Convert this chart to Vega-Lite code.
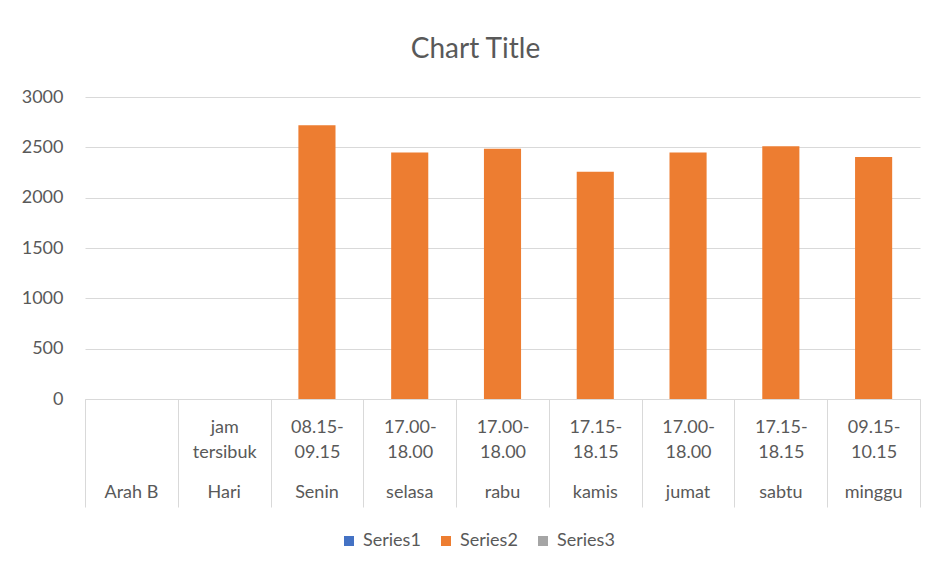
{
  "$schema": "https://vega.github.io/schema/vega-lite/v6.json",
  "autosize": "none",
  "width": 835,
  "height": 302,
  "padding": {"left": 85, "top": 97, "right": 19, "bottom": 169},
  "background": "white",
  "title": {"text": "Chart Title", "fontSize": 28, "font": "Lato", "fontWeight": "normal", "color": "#595959", "anchor": "middle", "offset": 24, "dx": -27},
  "config": {
    "view": {"stroke": null},
    "font": "Lato"
  },
  "data": {
    "values": [
      {"cat": "||Arah B", "series": "Series2", "value": null},
      {"cat": "jam|tersibuk|Hari", "series": "Series2", "value": null},
      {"cat": "08.15-|09.15|Senin", "series": "Series2", "value": 2720},
      {"cat": "17.00-|18.00|selasa", "series": "Series2", "value": 2448},
      {"cat": "17.00-|18.00|rabu", "series": "Series2", "value": 2485},
      {"cat": "17.15-|18.15|kamis", "series": "Series2", "value": 2257},
      {"cat": "17.00-|18.00|jumat", "series": "Series2", "value": 2448},
      {"cat": "17.15-|18.15|sabtu", "series": "Series2", "value": 2510},
      {"cat": "09.15-|10.15|minggu", "series": "Series2", "value": 2405}
    ]
  },
  "resolve": {"axis": {"x": "independent"}},
  "layer": [
    {
      "mark": {"type": "bar", "width": {"band": 0.4}},
      "encoding": {
        "x": {
          "field": "cat", "type": "nominal", "sort": null,
          "scale": {
            "domain": ["||Arah B", "jam|tersibuk|Hari", "08.15-|09.15|Senin", "17.00-|18.00|selasa", "17.00-|18.00|rabu", "17.15-|18.15|kamis", "17.00-|18.00|jumat", "17.15-|18.15|sabtu", "09.15-|10.15|minggu"],
            "paddingInner": 0, "paddingOuter": 0
          },
          "axis": {
            "orient": "bottom",
            "title": null,
            "labelAngle": 0,
            "labelExpr": "[split(datum.label, '|')[0], split(datum.label, '|')[1]]",
            "labelFontSize": 18,
            "labelColor": "#595959",
            "labelLineHeight": 25,
            "labelBaseline": "middle",
            "labelPadding": -80,
            "tickBand": "extent",
            "tickSize": 108,
            "tickColor": "#d9d9d9",
            "domainColor": "#d9d9d9",
            "labelLimit": 0
          }
        },
        "y": {
          "field": "value", "type": "quantitative",
          "scale": {"domain": [0, 3000]},
          "axis": {
            "title": null,
            "format": "d",
            "values": [0, 500, 1000, 1500, 2000, 2500, 3000],
            "labelFontSize": 18,
            "labelColor": "#595959",
            "gridColor": "#d9d9d9",
            "domain": false,
            "ticks": false,
            "labelPadding": 22
          }
        },
        "color": {
          "field": "series", "type": "nominal",
          "scale": {"domain": ["Series1", "Series2", "Series3"], "range": ["#4472c4", "#ed7d31", "#a5a5a5"]},
          "legend": {
            "title": null,
            "orient": "none",
            "direction": "horizontal",
            "legendX": 255,
            "legendY": 435,
            "symbolType": "square",
            "symbolSize": 100,
            "labelFontSize": 18,
            "labelColor": "#595959",
            "columnPadding": 16,
            "labelOffset": 5
          }
        }
      }
    },
    {
      "mark": {"type": "rule", "opacity": 0},
      "encoding": {
        "x": {
          "field": "cat", "type": "nominal", "sort": null,
          "axis": {
            "orient": "bottom",
            "title": null,
            "labelAngle": 0,
            "labelExpr": "split(datum.label, '|')[2]",
            "labelFontSize": 18,
            "labelColor": "#595959",
            "labelBaseline": "middle",
            "labelPadding": 93,
            "ticks": false,
            "domain": false,
            "labelLimit": 0
          }
        }
      }
    }
  ]
}
